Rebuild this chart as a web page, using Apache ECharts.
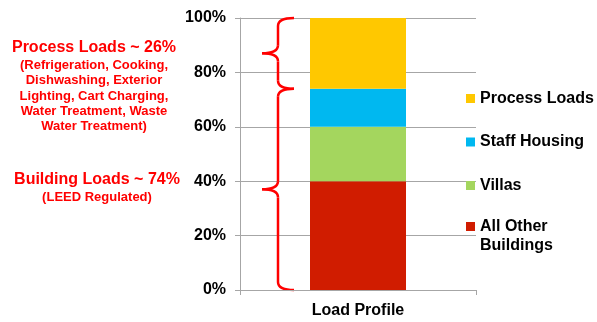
<!DOCTYPE html>
<html>
<head>
<meta charset="utf-8">
<script src="https://cdn.jsdelivr.net/npm/echarts@6/dist/echarts.min.js"></script>
<style>
  html, body { margin: 0; padding: 0; background: #fff; }
  #chart { width: 597px; height: 322px; }
</style>
</head>
<body>
<div id="chart"></div>
<script>
  // data
  const categories = ['Load Profile']
  const allOtherBuildings = [40]
  const villas = [20]
  const staffHousing = [14]
  const processLoads = [26]
  const seriesNames = ['All Other Buildings', 'Villas', 'Staff Housing', 'Process Loads']
  const seriesColors = ['#d01c00', '#a4d65e', '#00b8f0', '#ffc800']

  const processNote = ['Process Loads ~ 26%', '(Refrigeration, Cooking,', 'Dishwashing, Exterior', 'Lighting, Cart Charging,', 'Water Treatment, Waste', 'Water Treatment)']
  const buildingNote = ['Building Loads ~ 74%', '(LEED Regulated)']

  const font = "'Liberation Sans', Arial, sans-serif"
  const red = '#ff0000'
  const gray = '#a6a6a6'

  const mychart = echarts.init(document.getElementById('chart'))

  const values = [allOtherBuildings, villas, staffHousing, processLoads]
  const series = seriesNames.map((name, i) => ({
    name: name,
    type: 'bar',
    stack: 'load',
    barWidth: 96,
    data: values[i],
    itemStyle: { color: seriesColors[i] },
  }))

  const legendText = { fontFamily: font, fontSize: 16, fontWeight: 'bold', color: '#000', lineHeight: 19 }

  const option = {
    animation: false,
    textStyle: { fontFamily: font },
    grid: { left: 240, right: 121, top: 18, bottom: 32 },
    legend: [
      {
        orient: 'vertical',
        left: 461,
        top: 84,
        itemWidth: 9,
        itemHeight: 9,
        itemGap: 24.5,
        icon: 'rect',
        data: ['Process Loads', 'Staff Housing', 'Villas'],
        textStyle: legendText,
      },
      {
        // extra blank line on top so the icon sits beside the first text line
        orient: 'vertical',
        left: 461,
        top: 193,
        itemWidth: 9,
        itemHeight: 9,
        icon: 'rect',
        data: ['All Other Buildings'],
        formatter: () => '\u00a0\nAll Other\nBuildings',
        textStyle: legendText,
      },
    ],
    xAxis: {
      type: 'category',
      data: categories,
      axisLine: { lineStyle: { color: gray } },
      axisTick: { show: true, length: 5, lineStyle: { color: gray } },
      axisLabel: { color: '#000', fontSize: 16, fontWeight: 'bold', margin: 13 },
    },
    yAxis: {
      type: 'value',
      min: 0,
      max: 100,
      interval: 20,
      axisLine: { show: true, lineStyle: { color: gray } },
      axisTick: { show: true, length: 5, lineStyle: { color: gray } },
      axisLabel: { formatter: '{value}%', color: '#000', fontSize: 16, fontWeight: 'bold', margin: 14 },
      splitLine: { lineStyle: { color: gray } },
    },
    series: series,
  }
  mychart.setOption(option)

  // braces and red notes, positioned from the y axis
  const yPx = v => mychart.convertToPixel({ yAxisIndex: 0 }, v)
  const braceX = 278, tipX = 262, endX = 294, r = 8
  function brace(y1, y2) {
    const mid = (y1 + y2) / 2
    const st = { stroke: red, lineWidth: 2.5, fill: null }
    return [
      { type: 'bezierCurve', shape: { x1: endX, y1: y1, cpx1: braceX, cpy1: y1, x2: braceX, y2: y1 + r }, style: st },
      { type: 'line', shape: { x1: braceX, y1: y1 + r, x2: braceX, y2: mid - r }, style: st },
      { type: 'bezierCurve', shape: { x1: braceX, y1: mid - r, cpx1: braceX, cpy1: mid, x2: tipX, y2: mid }, style: st },
      { type: 'bezierCurve', shape: { x1: tipX, y1: mid, cpx1: braceX, cpy1: mid, x2: braceX, y2: mid + r }, style: st },
      { type: 'line', shape: { x1: braceX, y1: mid + r, x2: braceX, y2: y2 - r }, style: st },
      { type: 'bezierCurve', shape: { x1: braceX, y1: y2 - r, cpx1: braceX, cpy1: y2, x2: endX, y2: y2 }, style: st },
    ]
  }
  const yTop = yPx(100)
  const ySplit = yPx(100 - processLoads[0])
  const yBottom = yPx(0)

  function note(x, y, text, size) {
    return {
      type: 'text',
      style: {
        x: x, y: y, text: text,
        fill: red, fontFamily: font, fontWeight: 'bold', fontSize: size,
        lineHeight: 15.2, align: 'center', verticalAlign: 'middle',
      },
    }
  }

  mychart.setOption({
    graphic: [
      ...brace(yTop, ySplit),
      ...brace(ySplit, yBottom),
      note(94, 48, processNote[0], 16),
      note(94, 96, processNote.slice(1).join('\n'), 13),
      note(97, 180, buildingNote[0], 16),
      note(97, 197, buildingNote[1], 13),
    ],
  })
</script>
</body>
</html>
